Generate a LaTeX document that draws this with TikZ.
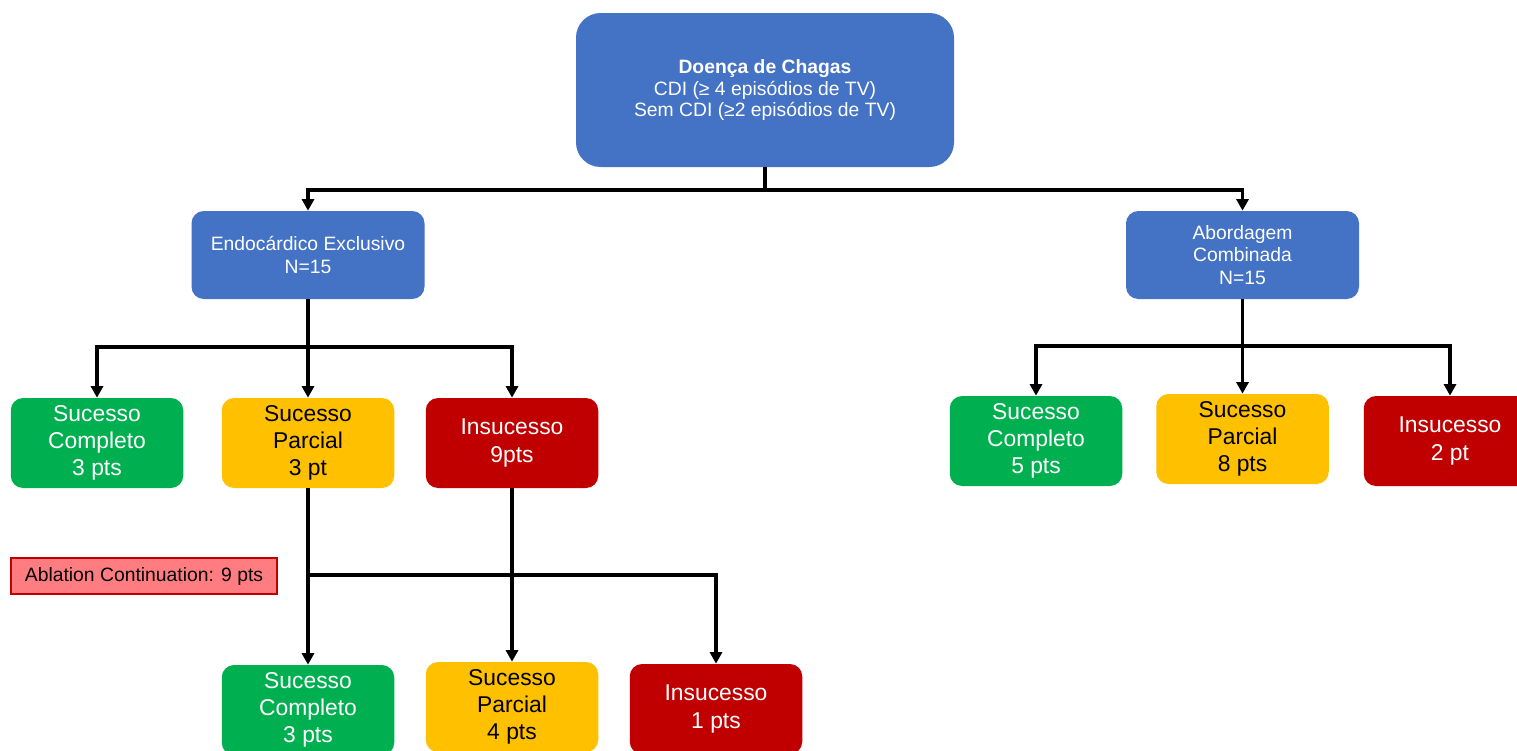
\documentclass[tikz,border=0pt]{standalone}
\usepackage{fontspec}
\setmainfont{Liberation Sans}
\usepackage{xcolor}
\usetikzlibrary{positioning, arrows.meta, calc}
\definecolor{chagblue}{HTML}{4472C4}
\definecolor{okgreen}{HTML}{00B050}
\definecolor{partyellow}{HTML}{FFC000}
\definecolor{failred}{HTML}{C00000}
\definecolor{notered}{HTML}{FF7C80}

\begin{document}
\begin{tikzpicture}[
  >={Triangle[length=2.3mm, width=2.4mm]},
  outcome/.style={
    rounded corners=7pt, minimum width=3.45cm, minimum height=1.8cm,
    align=center, inner sep=2pt, font=\fontsize{13}{15.4}\selectfont
  },
  okbox/.style={outcome, fill=okgreen, text=white},
  partbox/.style={outcome, fill=partyellow, text=black},
  failbox/.style={outcome, fill=failred, text=white},
  groupbox/.style={
    rounded corners=7pt, fill=chagblue, text=white,
    minimum width=4.66cm, minimum height=1.76cm,
    align=center, font=\fontsize{11}{13}\selectfont
  },
  rootbox/.style={groupbox, rounded corners=14pt,
    minimum width=7.56cm, minimum height=3.08cm,
    font=\fontsize{11}{12}\selectfont},
  notebox/.style={draw=failred, line width=0.8pt, fill=notered,
    minimum width=5.32cm, minimum height=0.72cm,
    font=\fontsize{11}{13}\selectfont},
  arr/.style={->, line width=2pt, black},
  link/.style={line width=2pt, black}
]
\useasboundingbox (0,0) rectangle (30.34,-15);

% Root
\node[rootbox] (root) at (15.3,-1.8)
  {\textbf{Doença de Chagas}\\CDI (≥ 4 episódios de TV)\\Sem CDI (≥2 episódios de TV)};

% Groups
\node[groupbox] (endo) at (6.16,-5.1) {Endocárdico Exclusivo\\N=15};
\node[groupbox] (comb) at (24.85,-5.1) {Abordagem\\Combinada\\N=15};

% Endocardic outcomes
\node[okbox]   (sc1) at (1.94,-8.86)  {Sucesso\\Completo\\3 pts};
\node[partbox] (sp1) at (6.16,-8.86)  {Sucesso\\Parcial\\3 pt};
\node[failbox] (in1) at (10.24,-8.86) {Insucesso\\9pts};

% Combined outcomes
\node[okbox]   (sc2) at (20.72,-8.82)  {Sucesso\\Completo\\5 pts};
\node[partbox] (sp2) at (24.85,-8.78) {Sucesso\\Parcial\\8 pts};
\node[failbox] (in2) at (29.0,-8.82)   {Insucesso\\2 pt};

% Ablation continuation
\node[notebox] (abl) at (2.88,-11.52) {Ablation Continuation: 9 pts};
\node[okbox]   (sc3) at (6.16,-14.2)  {Sucesso\\Completo\\3 pts};
\node[partbox] (sp3) at (10.24,-14.14) {Sucesso\\Parcial\\4 pts};
\node[failbox] (in3) at (14.32,-14.18) {Insucesso\\1 pts};

% Connectors
\coordinate (jroot) at (root.south |- 0,-3.8);
\draw[link] (root.south) -- (jroot);
\draw[arr] (jroot) -| (endo.north);
\draw[arr] (jroot) -| (comb.north);

\coordinate (jendo) at (endo.south |- 0,-6.94);
\draw[arr] (endo.south) -- (sp1.north);
\draw[arr] (jendo) -| (sc1.north);
\draw[arr] (jendo) -| (in1.north);

\coordinate (jcomb) at (comb.south |- 0,-6.92);
\draw[arr] (comb.south) -- (sp2.north);
\draw[arr] (jcomb) -| (sc2.north);
\draw[arr] (jcomb) -| (in2.north);

\coordinate (jabl) at (sp1.south |- 0,-11.5);
\draw[arr] (sp1.south) -- (sc3.north);
\draw[arr] (in1.south) -- (sp3.north);
\draw[arr] (jabl) -| (in3.north);

\end{tikzpicture}
\end{document}
